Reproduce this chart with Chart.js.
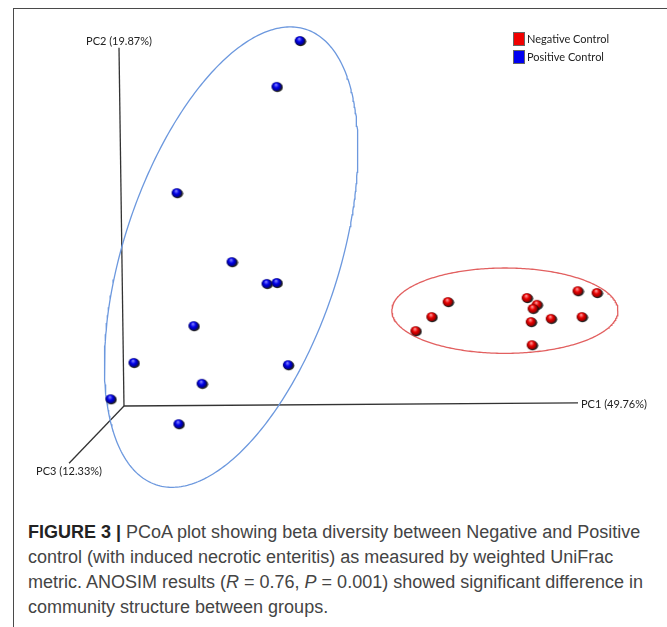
<!DOCTYPE html>
<html>
<head>
<meta charset="utf-8">
<script src="https://cdn.jsdelivr.net/npm/chart.js@4.4.1/dist/chart.umd.min.js"></script>
<style>
  body { margin: 0; background: #fff; width: 667px; height: 627px; overflow: hidden; position: relative; }
  #frame { position: absolute; left: 13px; top: 8px; width: 700px; height: 640px;
           border-left: 1.5px solid #4a4a4a; border-top: 1.5px solid #4a4a4a; }
  #pcoa { position: absolute; left: 0; top: 0; }
  #caption { position: absolute; left: 28px; top: 520px; font-family: "Liberation Sans", Arial, sans-serif;
             font-size: 18px; line-height: 25px; color: #444; white-space: nowrap; }
  #caption b { color: #222; }
</style>
</head>
<body>
<div id="frame"></div>
<canvas id="pcoa" width="667" height="500"></canvas>
<div id="caption"><b>FIGURE 3 |</b> PCoA plot showing beta diversity between Negative and Positive<br>control (with induced necrotic enteritis) as measured by weighted UniFrac<br>metric. ANOSIM results (<i>R</i> = 0.76, <i>P</i> = 0.001) showed significant difference in<br>community structure between groups.</div>

<script>
// projected PCoA coordinates (screen plane, PC1 axis length = 100)
const groups = ['Negative Control', 'Positive Control'];
const negX = [71.4, 67.8, 64.3, 88.8, 91.0, 90.1, 89.7, 94.1, 100.0, 104.2, 100.9, 89.9];
const negY = [22.9, 19.6, 16.5, 23.8, 22.3, 21.4, 18.5, 19.2, 25.3, 24.9, 19.6, 13.4];
const posX = [38.8, 33.7, 11.7, 23.8, 31.5, 33.7, 15.4, 2.2, 36.2, 17.2, -2.9, 12.1];
const posY = [80.4, 70.3, 46.9, 31.7, 26.9, 27.1, 17.6, 9.5, 9.0, 4.9, 1.5, -4.0];

// axis end points and labels
const axisLabels = ['PC1 (49.76%)', 'PC2 (19.87%)', 'PC3 (12.33%)'];
const axisEndX = [100, -1.1, -12.1];
const axisEndY = [0.7, 78.9, -12.6];

// group ellipses: centre, semi axes, rotation (deg)
const ellCx = [83.9, 23.6];
const ellCy = [21.0, 32.8];
const ellA = [24.9, 52.8];
const ellB = [9.4, 23.7];
const ellRot = [0, 71.8];

function ellipsePoints(i) {
  const pts = [];
  const r = ellRot[i] * Math.PI / 180;
  for (let k = 0; k <= 360; k++) {
    const t = k / 360 * 2 * Math.PI;
    const ex = ellA[i] * Math.cos(t), ey = ellB[i] * Math.sin(t);
    pts.push({ x: ellCx[i] + ex * Math.cos(r) - ey * Math.sin(r), y: ellCy[i] + ex * Math.sin(r) + ey * Math.cos(r) });
  }
  return pts;
}

function sphere(base, dark, light) {
  const c = document.createElement('canvas');
  c.width = 13; c.height = 12;
  const g = c.getContext('2d');
  g.fillStyle = 'rgba(10,10,10,0.9)';
  g.beginPath(); g.ellipse(6.9, 6.4, 5.5, 4.8, 0, 0, 2 * Math.PI); g.fill();
  const grad = g.createRadialGradient(5.5, 3.8, 0.3, 6, 5.5, 5.2);
  grad.addColorStop(0, light);
  grad.addColorStop(0.45, base);
  grad.addColorStop(1, dark);
  g.fillStyle = grad;
  g.beginPath(); g.ellipse(6, 5.6, 5, 4.3, 0, 0, 2 * Math.PI); g.fill();
  return c;
}

const redBall = sphere('#e80000', '#7a0000', '#ff9a9a');
const blueBall = sphere('#0000e8', '#00006a', '#8080ff');

const zip = (xs, ys) => xs.map((x, i) => ({ x: x, y: ys[i] }));

const axisSets = axisEndX.map((x, i) => ({
  data: [{ x: 0, y: 0 }, { x: x, y: axisEndY[i] }],
  showLine: true, borderColor: '#333', borderWidth: 1.3, pointRadius: 0, order: 3
}));

const overlay = {
  id: 'overlay',
  afterDatasetsDraw(chart) {
    const ctx = chart.ctx;
    const xs = chart.scales.x, ys = chart.scales.y;
    ctx.save();
    ctx.fillStyle = '#222';
    ctx.font = '11px Lato, "Open Sans", sans-serif';
    // PC1: right of end, PC2: above end, PC3: below end
    let px = xs.getPixelForValue(axisEndX[0]), py = ys.getPixelForValue(axisEndY[0]);
    ctx.textAlign = 'left'; ctx.textBaseline = 'middle';
    ctx.fillText(axisLabels[0], px + 3, py + 2);
    px = xs.getPixelForValue(axisEndX[1]); py = ys.getPixelForValue(axisEndY[1]);
    ctx.textAlign = 'center'; ctx.textBaseline = 'bottom';
    ctx.fillText(axisLabels[1], px, py - 1);
    px = xs.getPixelForValue(axisEndX[2]); py = ys.getPixelForValue(axisEndY[2]);
    ctx.textAlign = 'center'; ctx.textBaseline = 'top';
    ctx.fillText(axisLabels[2], px, py + 3);

    // legend
    const colors = ['#f00000', '#0000f0'];
    groups.forEach((g, i) => {
      const ly = 32 + i * 18;
      ctx.fillStyle = colors[i];
      ctx.fillRect(513, ly, 12, 14);
      ctx.strokeStyle = '#666';
      ctx.lineWidth = 1;
      ctx.strokeRect(513.5, ly + 0.5, 11, 13);
      ctx.fillStyle = '#222';
      ctx.textAlign = 'left'; ctx.textBaseline = 'middle';
      ctx.fillText(g, 527, ly + 7);
    });
    ctx.restore();
  }
};

new Chart(document.getElementById('pcoa'), {
  type: 'scatter',
  data: {
    datasets: [
      { label: groups[0], data: zip(negX, negY), pointStyle: redBall, pointRadius: 5, order: 0 },
      { label: groups[1], data: zip(posX, posY), pointStyle: blueBall, pointRadius: 5, order: 0 },
      { data: ellipsePoints(0), showLine: true, borderColor: 'rgb(226,96,96)', borderWidth: 1.3, pointRadius: 0, order: 2 },
      { data: ellipsePoints(1), showLine: true, borderColor: 'rgb(108,152,222)', borderWidth: 1.3, pointRadius: 0, order: 2 },
      ...axisSets
    ]
  },
  options: {
    responsive: false,
    animation: false,
    layout: { padding: 0, autoPadding: false },
    plugins: { legend: { display: false }, tooltip: { enabled: false } },
    scales: {
      x: { type: 'linear', display: false, min: -27.31, max: 119.6 },
      y: { type: 'linear', display: false, min: -20.7, max: 89.43 }
    }
  },
  plugins: [overlay]
});
</script>
</body>
</html>
